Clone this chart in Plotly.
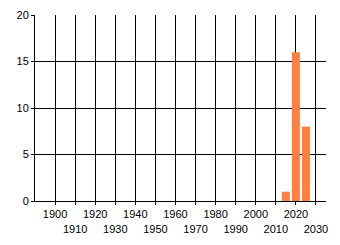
import plotly.graph_objects as go

years = [2015, 2020, 2025]
counts = [1, 16, 8]
tick_years = list(range(1900, 2031, 10))
tick_labels = [str(y) if i % 2 == 0 else "<br>" + str(y) for i, y in enumerate(tick_years)]
y_ticks = [0, 5, 10, 15, 20]

fig = go.Figure()
fig.add_trace(go.Bar(x=years, y=counts, marker=dict(color="#FF7F41", line=dict(width=0))))

fig.update_layout(
    width=340, height=245,
    margin=dict(l=35, r=14, t=15, b=44),
    paper_bgcolor="white", plot_bgcolor="white",
    bargap=0.2,
    showlegend=False,
    font=dict(family="Liberation Sans, Arial, sans-serif", size=11, color="#000"),
)
fig.update_xaxes(
    range=[1890, 2035], tickvals=tick_years, ticktext=tick_labels, tickangle=0,
    automargin=False,
    showgrid=True, gridcolor="black", gridwidth=1,
    showline=True, linecolor="black", linewidth=1,
    ticks="outside", ticklen=3, tickcolor="black", zeroline=False,
)
fig.update_yaxes(
    range=[0, 20], tickvals=y_ticks, automargin=False,
    showgrid=True, gridcolor="black", gridwidth=1,
    showline=True, linecolor="black", linewidth=1,
    ticks="outside", ticklen=3, tickcolor="black", zeroline=False,
)
fig.write_html("out.html")
